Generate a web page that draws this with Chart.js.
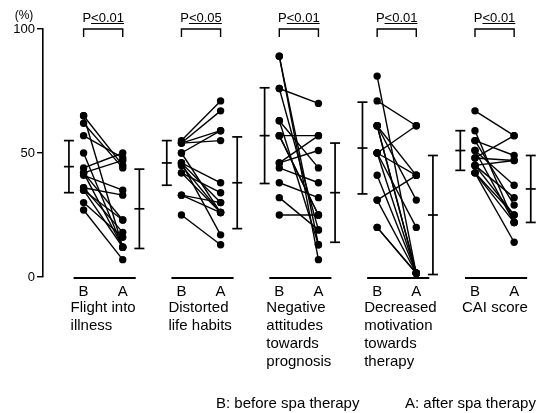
<!DOCTYPE html>
<html>
<head>
<meta charset="utf-8">
<script src="https://cdn.jsdelivr.net/npm/chart.js@4.4.0/dist/chart.umd.min.js"></script>
<style>
  html, body { margin: 0; padding: 0; background: #fff; }
  #wrap { width: 554px; height: 413px; position: relative; }
</style>
</head>
<body>
<div id="wrap"><canvas id="spaChart"></canvas></div>
<script>
// categories and labels
const categories = [
    ['Flight into', 'illness'],
    ['Distorted', 'life habits'],
    ['Negative', 'attitudes', 'towards', 'prognosis'],
    ['Decreased', 'motivation', 'towards', 'therapy'],
    ['CAI score']
];
const groupLabels = ['B', 'A'];
const pLabels = ['P<0.01', 'P<0.05', 'P<0.01', 'P<0.01', 'P<0.01'];
const yTicks = [0, 50, 100];
const footnote = ['B: before spa therapy', 'A: after spa therapy'];

// individual patients (%), before / after
const flightBefore = [65, 65, 62, 57, 50, 44, 42, 42, 41, 36, 36, 35, 30, 27, 35, 42];
const flightAfter = [12, 45, 44, 48, 12, 50, 47, 23, 35, 33, 18, 12, 16, 7, 23, 12];
const habitsBefore = [55, 54, 54, 50, 54, 46, 46, 45, 42, 42, 33, 33, 25, 46, 50];
const habitsAfter = [71, 67, 59, 59, 55, 38, 30, 26, 26, 34, 26, 30, 13, 17, 26];
const attitudeBefore = [89, 89, 76, 76, 63, 63, 57, 57, 46, 46, 44, 38, 32, 25, 57];
const attitudeAfter = [13, 7, 70, 19, 44, 13, 57, 25, 57, 51, 38, 32, 19, 25, 25];
const motivationBefore = [81, 71, 61, 61, 61, 50, 50, 50, 41, 31, 20, 20, 61, 50, 31];
const motivationAfter = [1.5, 61, 41, 31, 1.5, 61, 41, 20, 1.5, 41, 1.5, 1.5, 1.5, 1.5, 1.5];
const caiBefore = [67, 59, 55, 55, 51, 48, 48, 45, 45, 42, 42, 51, 45, 42];
const caiAfter = [57, 22, 49, 29, 37, 57, 47, 25, 32, 14, 22, 22, 47, 25];

// mean +- SD bars
const meanBefore = [44.5, 46, 57, 52, 51];
const sdBefore = [10.5, 9, 19.3, 18.5, 8];
const meanAfter = [27.5, 38, 34, 25, 35.5];
const sdAfter = [16, 18.5, 20, 24, 13.5];

const beforeSets = [flightBefore, habitsBefore, attitudeBefore, motivationBefore, caiBefore];
const afterSets = [flightAfter, habitsAfter, attitudeAfter, motivationAfter, caiAfter];

// x layout in panel units
const B_X = 0, A_X = 0.4, SD_B_X = -0.15, SD_A_X = 0.57;
const FONT = '"Liberation Sans", Arial, sans-serif';

let datasets = [];
beforeSets.forEach((before, i) => {
    before.forEach((b, k) => {
        datasets.push({
            data: [{ x: i + B_X, y: b }, { x: i + A_X, y: afterSets[i][k] }],
            showLine: true,
            borderColor: '#000',
            borderWidth: 1.4,
            pointRadius: 3.7,
            pointBackgroundColor: '#000',
            pointBorderWidth: 0,
            clip: false
        });
    });
    [[SD_B_X, meanBefore[i], sdBefore[i]], [SD_A_X, meanAfter[i], sdAfter[i]]].forEach(([dx, m, sd]) => {
        datasets.push({
            data: [{ x: i + dx, y: m + sd }, { x: i + dx, y: m }, { x: i + dx, y: m - sd }],
            showLine: true,
            borderColor: '#000',
            borderWidth: 1.7,
            pointStyle: 'line',
            pointRadius: 5,
            pointBorderColor: '#000',
            pointBorderWidth: 1.7,
            clip: false
        });
    });
});

// text, brackets and panel baselines
const decorations = {
    id: 'decorations',
    afterDraw(chart) {
        const c = chart.ctx, x = chart.scales.x, y = chart.scales.y;
        const y0 = y.getPixelForValue(0), y100 = y.getPixelForValue(100);
        c.save();
        c.fillStyle = '#000';
        c.strokeStyle = '#000';
        c.textBaseline = 'middle';

        c.font = '12px ' + FONT;
        c.textAlign = 'center';
        c.fillText('(%)', 24, 16);

        categories.forEach((cat, i) => {
            const bx = x.getPixelForValue(i + B_X), ax = x.getPixelForValue(i + A_X);

            // significance bracket
            c.lineWidth = 1.4;
            c.beginPath();
            c.moveTo(bx, y100 + 8);
            c.lineTo(bx, y100);
            c.lineTo(ax, y100);
            c.lineTo(ax, y100 + 8);
            c.stroke();
            c.font = '13px ' + FONT;
            c.textAlign = 'center';
            const mid = (bx + ax) / 2;
            c.fillText(pLabels[i], mid, 18);
            const w = c.measureText(pLabels[i]).width, pw = c.measureText('P').width;
            c.lineWidth = 1;
            c.beginPath();
            c.moveTo(mid - w / 2 + pw, 23.5);
            c.lineTo(mid + w / 2, 23.5);
            c.stroke();

            // baseline under the panel
            c.lineWidth = 2;
            c.beginPath();
            c.moveTo(bx - 10, y0 + 1);
            c.lineTo(ax + 13, y0 + 1);
            c.stroke();

            c.font = '15px ' + FONT;
            c.fillText(groupLabels[0], bx, y0 + 15);
            c.fillText(groupLabels[1], ax, y0 + 15);

            c.textAlign = 'left';
            cat.forEach((line, j) => {
                c.fillText(line, bx - 13, y0 + 31 + j * 18);
            });
        });

        c.font = '15px ' + FONT;
        c.textAlign = 'left';
        c.fillText(footnote[0], 216, 404);
        c.fillText(footnote[1], 405, 404);
        c.restore();
    }
};

const ctx = document.getElementById('spaChart').getContext('2d');
const spaChart = new Chart(ctx, {
    type: 'scatter',
    data: { datasets: datasets },
    options: {
        responsive: true,
        maintainAspectRatio: false,
        animation: false,
        layout: { padding: { left: 0, right: 2, top: 29, bottom: 136 } },
        plugins: { legend: { display: false }, tooltip: { enabled: false } },
        scales: {
            x: { type: 'linear', display: false, min: -0.415, max: 4.739 },
            y: {
                min: 0,
                max: 100,
                afterFit: (axis) => { axis.width = 43; },
                afterBuildTicks: (axis) => { axis.ticks = yTicks.map(v => ({ value: v })); },
                ticks: { color: '#000', padding: 2, font: { size: 13, family: FONT } },
                grid: { drawOnChartArea: false, drawTicks: true, tickLength: 6, color: '#000', lineWidth: 1.4 },
                border: { display: true, color: '#000', width: 1.6 }
            }
        }
    },
    plugins: [decorations]
});
</script>
</body>
</html>
